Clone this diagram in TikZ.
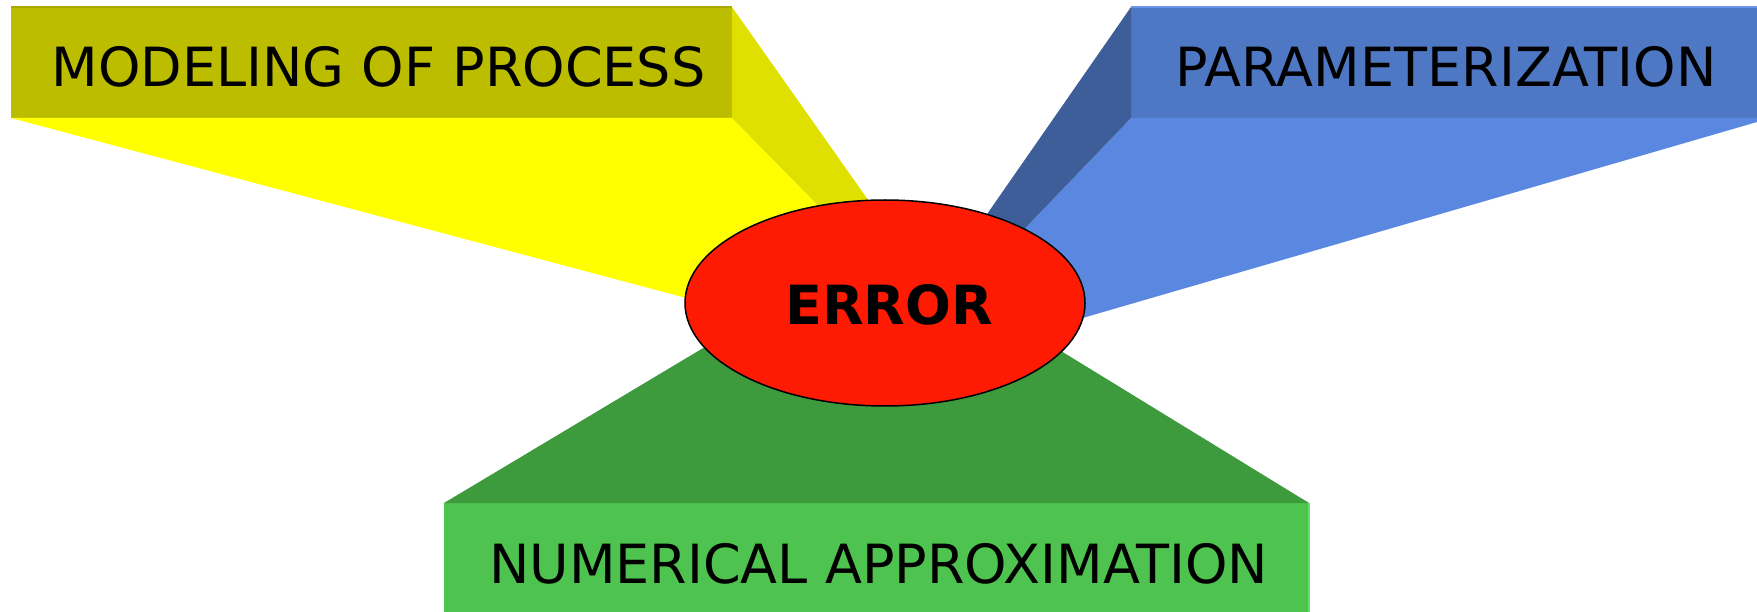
\documentclass[tikz,border=0pt]{standalone}
\usepackage{fontspec}
\setmainfont{DejaVu Sans}
\usetikzlibrary{shapes.geometric}
\definecolor{ybox}{HTML}{BDBD00}
\definecolor{yside}{HTML}{E0E000}
\definecolor{yfan}{HTML}{FFFF00}
\definecolor{yedge}{HTML}{A9A900}
\definecolor{bbox}{HTML}{4E78C4}
\definecolor{bside}{HTML}{3E5E9A}
\definecolor{bfan}{HTML}{5A88E0}
\definecolor{bedge}{HTML}{6A96EA}
\definecolor{gbox}{HTML}{4FC34F}
\definecolor{gfan}{HTML}{3D9A3D}
\definecolor{gedge}{HTML}{66E066}
\definecolor{errred}{HTML}{FF1B03}
\tikzset{
  panel/.style={draw=none, inner sep=0pt, outer sep=0pt, rectangle},
  lbl/.style={inner sep=0pt, anchor=base, font=\fontsize{54}{60}\selectfont, text=black},
  errlbl/.style={inner sep=0pt, anchor=base, font=\fontsize{54}{60}\selectfont\bfseries, text=black},
  errshape/.style={ellipse, draw=black, line width=1.5pt, fill=errred, inner sep=0pt, outer sep=0pt, minimum width=400pt, minimum height=206pt}
}
\begin{document}
\begin{tikzpicture}[x=1pt,y=-1pt]
\useasboundingbox (0,0) rectangle (1757,612);
% boxes
\node[panel, fill=ybox, minimum width=721pt, minimum height=111pt] (mbox) at (371.5,62.5) {};
\node[panel, fill=bbox, minimum width=626pt, minimum height=111pt] (pbox) at (1444,62.5) {};
\node[panel, fill=gbox, minimum width=865pt, minimum height=109pt] (nbox) at (876.5,557.5) {};
% interior coordinates (hidden behind the ellipse)
\coordinate (yo) at (890,231);
\coordinate (yi) at (860,248);
\coordinate (yl) at (885,351);
\coordinate (bo) at (960,253);
\coordinate (bi) at (985,270);
\coordinate (bl) at (1000,342);
\coordinate (gl) at (740,326);
\coordinate (gr) at (1030,332);
\coordinate (bfr) at (1757,122);
% yellow fan
\fill[yfan] (mbox.south west) -- (mbox.south east) -- (yi) -- (yl) -- cycle;
\fill[yside] (mbox.north east) -- (yo) -- (yi) -- (mbox.south east) -- cycle;
\draw[yedge, line width=2pt] (mbox.north west) -- (mbox.north east);
% blue fan
\fill[bfan] (pbox.south west) -- (pbox.south east) -- (bfr) -- (bl) -- (bi) -- cycle;
\fill[bside] (pbox.north west) -- (bo) -- (bi) -- (pbox.south west) -- cycle;
\draw[bedge, line width=2pt] (pbox.north west) -- (pbox.north east);
% green fan
\fill[gfan] (nbox.north west) -- (gl) -- (gr) -- (nbox.north east) -- cycle;
\draw[gedge, line width=2pt] (nbox.north east) -- (nbox.south east);
% error ellipse
\node[errshape] (err) at (885,303) {};
% labels
\node[lbl] (mtext) at (378.5,87) {MODELING OF PROCESS};
\node[lbl] (ptext) at (1446,87) {PARAMETERIZATION};
\node[lbl] (ntext) at (878.5,583) {NUMERICAL APPROXIMATION};
\node[errlbl] (etext) at (889,325) {ERROR};
\end{tikzpicture}
\end{document}
